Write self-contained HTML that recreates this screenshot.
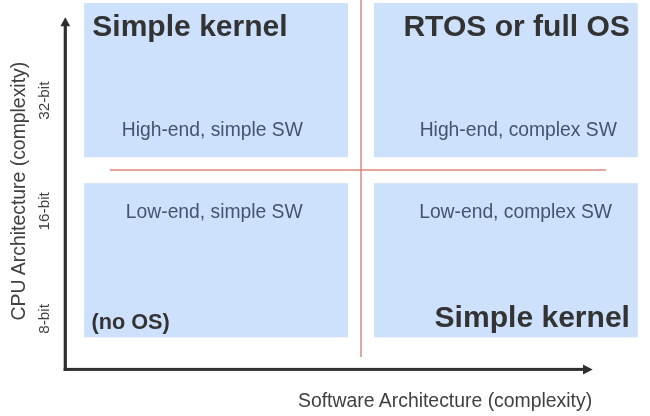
<!DOCTYPE html>
<html><head><meta charset="utf-8">
<style>
html,body{margin:0;padding:0;background:#fff;}
body{width:650px;height:416px;overflow:hidden;position:relative;}
svg{position:absolute;left:0;top:0;filter:blur(0.35px);}
text{font-family:"Liberation Sans",sans-serif;}
</style></head>
<body>
<svg width="650" height="416" viewBox="0 0 650 416">
  <rect x="0" y="0" width="650" height="416" fill="#ffffff"/>
  <rect x="84.1" y="3" width="263.9" height="154.2" fill="#cde1fc"/>
  <rect x="374" y="3" width="263.8" height="154.2" fill="#cde1fc"/>
  <rect x="84.1" y="183.2" width="263.9" height="154.2" fill="#cde1fc"/>
  <rect x="374" y="183.2" width="263.8" height="154.2" fill="#cde1fc"/>
  <rect x="360" y="0" width="2" height="357" fill="#d9705c" fill-opacity="0.62"/>
  <rect x="110" y="169" width="496" height="2" fill="#d9705c" fill-opacity="0.62"/>
  <rect x="63.7" y="25" width="3.2" height="346" fill="#2f2f2f"/>
  <rect x="63.7" y="367.9" width="520" height="3" fill="#2f2f2f"/>
  <polygon points="65.3,17.2 60.4,26.2 70.2,26.2" fill="#2f2f2f"/>
  <polygon points="592.7,369.4 583,364.4 583,374.5" fill="#2f2f2f"/>
  <text x="92.28" y="36.00" font-size="30.050" font-weight="bold" fill="#333333">Simple kernel</text>
  <text x="403.39" y="36.00" font-size="30.050" font-weight="bold" fill="#333333">RTOS or full OS</text>
  <text x="434.58" y="326.80" font-size="30.050" font-weight="bold" fill="#333333">Simple kernel</text>
  <text x="91.46" y="328.60" font-size="21.700" font-weight="bold" fill="#333333">(no OS)</text>
  <text x="121.78" y="135.70" font-size="19.300" font-weight="normal" fill="#44546a">High-end, simple SW</text>
  <text x="419.68" y="135.70" font-size="19.300" font-weight="normal" fill="#44546a">High-end, complex SW</text>
  <text x="125.87" y="218.10" font-size="19.300" font-weight="normal" fill="#44546a">Low-end, simple SW</text>
  <text x="419.17" y="218.10" font-size="19.300" font-weight="normal" fill="#44546a">Low-end, complex SW</text>
  <text x="297.98" y="406.50" font-size="19.400" font-weight="normal" fill="#404040">Software Architecture (complexity)</text>
  <text transform="translate(25.00,320.41) rotate(-90)" font-size="19.400" font-weight="normal" fill="#404040">CPU Architecture (complexity)</text>
  <text transform="translate(48.80,119.85) rotate(-90)" font-size="15.300" font-weight="normal" fill="#404040">32-bit</text>
  <text transform="translate(48.80,230.48) rotate(-90)" font-size="15.300" font-weight="normal" fill="#404040">16-bit</text>
  <text transform="translate(48.80,333.75) rotate(-90)" font-size="15.300" font-weight="normal" fill="#404040">8-bit</text>
</svg>
</body></html>
